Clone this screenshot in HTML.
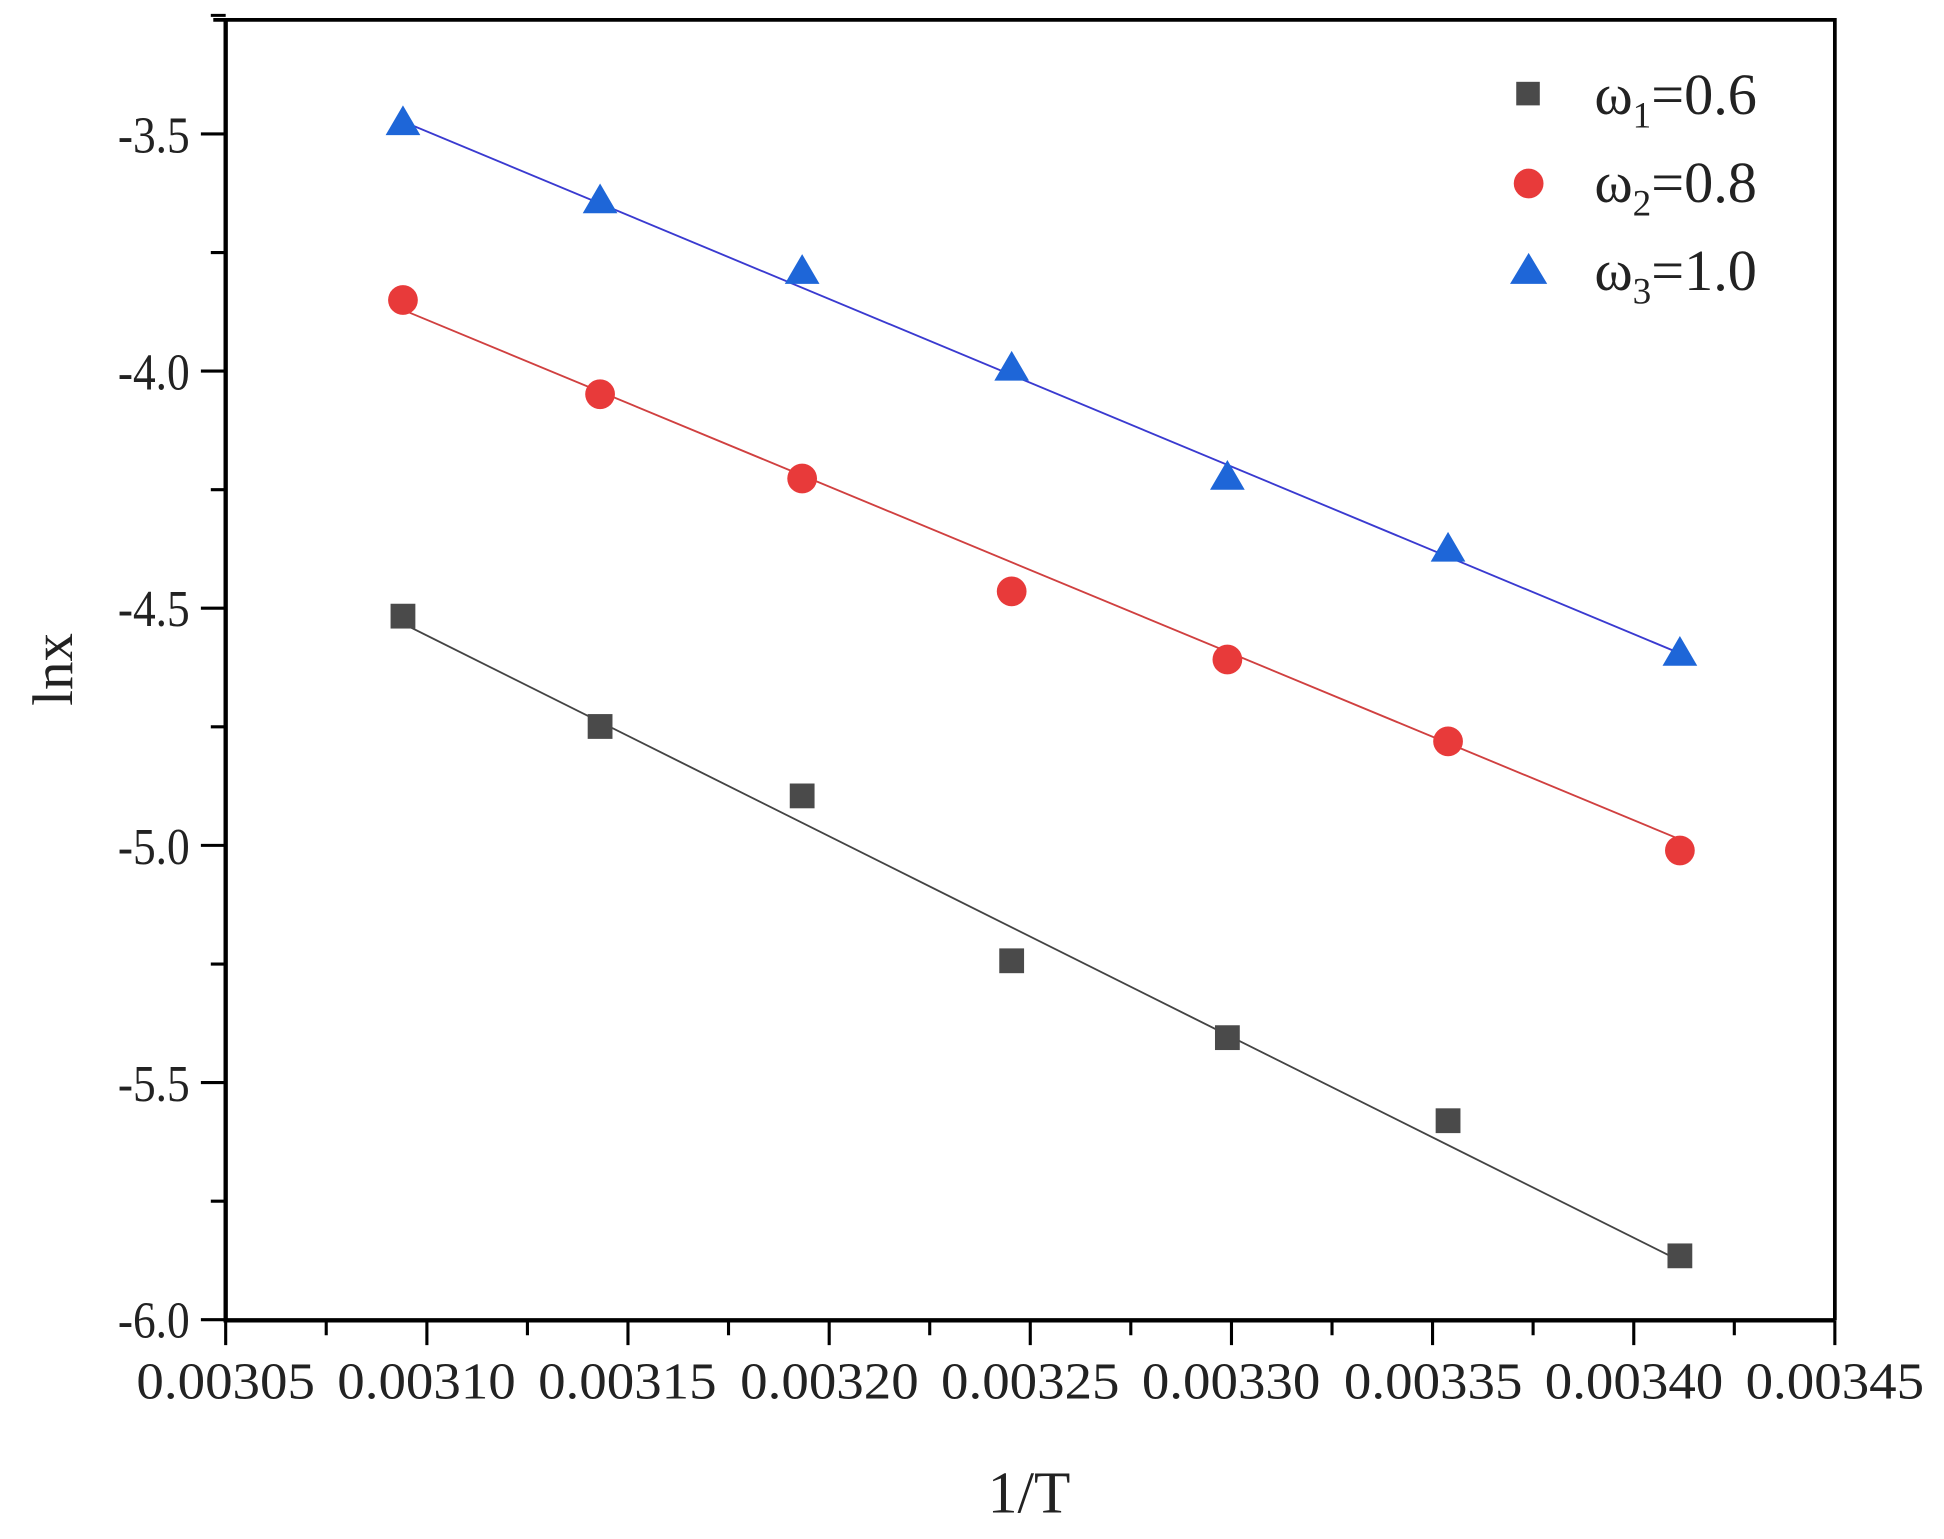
<!DOCTYPE html>
<html><head><meta charset="utf-8"><style>html,body{margin:0;padding:0;background:#fff}svg{display:block}</style></head>
<body>
<svg width="1944" height="1539" viewBox="0 0 1568 1241.4" xmlns="http://www.w3.org/2000/svg" font-family="Liberation Serif, serif">
<rect width="1568" height="1241.4" fill="#fff"/>
<g stroke="#000" fill="none">
<path d="M172 16 H1480 V1065" stroke-width="3"/>
<path d="M182 16 V1065 H1480" stroke-width="3.5"/>
<g stroke-width="2.5">
<path d="M162 108H182M162 299.3H182M162 490.6H182M162 681.9H182M162 873.2H182M162 1064.5H182"/>
<path d="M170 12.4H182M170 203.7H182M170 395H182M170 586.3H182M170 777.6H182M170 968.9H182"/>
<path d="M182 1065V1085M344.3 1065V1085M506.5 1065V1085M668.8 1065V1085M831 1065V1085M993.3 1065V1085M1155.5 1065V1085M1317.8 1065V1085M1480 1065V1085"/>
<path d="M263.1 1065V1077M425.4 1065V1077M587.6 1065V1077M749.9 1065V1077M912.1 1065V1077M1074.4 1065V1077M1236.6 1065V1077M1398.9 1065V1077"/>
</g>
</g>
<g font-size="42" fill="#222" text-anchor="end">
<text x="153" y="123" textLength="58" lengthAdjust="spacingAndGlyphs">-3.5</text><text x="153" y="314" textLength="58" lengthAdjust="spacingAndGlyphs">-4.0</text><text x="153" y="505" textLength="58" lengthAdjust="spacingAndGlyphs">-4.5</text>
<text x="153" y="697" textLength="58" lengthAdjust="spacingAndGlyphs">-5.0</text><text x="153" y="888" textLength="58" lengthAdjust="spacingAndGlyphs">-5.5</text><text x="153" y="1079" textLength="58" lengthAdjust="spacingAndGlyphs">-6.0</text>
</g>
<g font-size="42" fill="#222" text-anchor="middle">
<text x="182" y="1128" textLength="144" lengthAdjust="spacingAndGlyphs">0.00305</text><text x="344" y="1128" textLength="144" lengthAdjust="spacingAndGlyphs">0.00310</text><text x="506" y="1128" textLength="144" lengthAdjust="spacingAndGlyphs">0.00315</text>
<text x="669" y="1128" textLength="144" lengthAdjust="spacingAndGlyphs">0.00320</text><text x="831" y="1128" textLength="144" lengthAdjust="spacingAndGlyphs">0.00325</text><text x="993" y="1128" textLength="144" lengthAdjust="spacingAndGlyphs">0.00330</text>
<text x="1156" y="1128" textLength="144" lengthAdjust="spacingAndGlyphs">0.00335</text><text x="1318" y="1128" textLength="144" lengthAdjust="spacingAndGlyphs">0.00340</text><text x="1480" y="1128" textLength="144" lengthAdjust="spacingAndGlyphs">0.00345</text>
</g>
<text x="830" y="1220" font-size="48" text-anchor="middle" fill="#222">1/T</text>
<text transform="translate(58,540) rotate(-90)" font-size="46" text-anchor="middle" fill="#222">lnx</text>
<path d="M325 98L1355 527" stroke="#3a3ad0" stroke-width="1.5"/>
<path d="M325 250L1355 677" stroke="#d04040" stroke-width="1.5"/>
<path d="M325 503L1355 1017" stroke="#444" stroke-width="1.5"/>
<g fill="#4a4a4a">
<rect x="315" y="487" width="20" height="20"/><rect x="474" y="576" width="20" height="20"/><rect x="637" y="632" width="20" height="20"/>
<rect x="806" y="765" width="20" height="20"/><rect x="980" y="827" width="20" height="20"/><rect x="1158" y="894" width="20" height="20"/><rect x="1345" y="1003" width="20" height="20"/>
</g>
<g fill="#e83a3a">
<circle cx="325" cy="242" r="12"/><circle cx="484" cy="318" r="12"/><circle cx="647" cy="386" r="12"/><circle cx="816" cy="477" r="12"/>
<circle cx="990" cy="532" r="12"/><circle cx="1168" cy="598" r="12"/><circle cx="1355" cy="686" r="12"/>
</g>
<g fill="#1e66d8">
<path d="M325 85l14 24h-28z"/><path d="M484 148l14 24h-28z"/><path d="M647 205l14 24h-28z"/><path d="M816 283l14 24h-28z"/>
<path d="M990 371l14 24h-28z"/><path d="M1168 429l14 24h-28z"/><path d="M1355 513l14 24h-28z"/>
</g>
<rect x="1223" y="66" width="19" height="19" fill="#4a4a4a"/>
<circle cx="1233" cy="148" r="12" fill="#e83a3a"/>
<path d="M1233 204l15 25h-30z" fill="#1e66d8"/>
<g font-size="47" fill="#222">
<text x="1286" y="92">ω<tspan font-size="30" dy="11">1</tspan><tspan dy="-11">=0.6</tspan></text>
<text x="1286" y="163">ω<tspan font-size="30" dy="11">2</tspan><tspan dy="-11">=0.8</tspan></text>
<text x="1286" y="234">ω<tspan font-size="30" dy="11">3</tspan><tspan dy="-11">=1.0</tspan></text>
</g>
</svg>
</body></html>
